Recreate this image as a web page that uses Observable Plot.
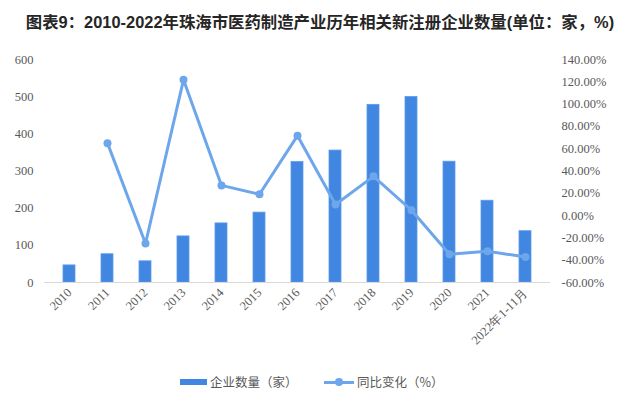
<!DOCTYPE html>
<html>
<head>
<meta charset="utf-8">
<script src="https://cdn.jsdelivr.net/npm/d3@7"></script>
<script src="https://cdn.jsdelivr.net/npm/@observablehq/plot@0.6"></script>
<style>
  html, body { margin: 0; padding: 0; background: #fff; }
  #wrap { position: relative; width: 640px; height: 406px; overflow: hidden; }
  #title { position: absolute; left: 0; top: 11px; width: 640px; text-align: center;
    font-family: "Liberation Sans", "Noto Sans CJK SC", sans-serif; font-weight: bold;
    font-size: 16.4px; color: #262626; line-height: 22px; white-space: nowrap; }
  #legend { position: absolute; left: 0; top: 372px; width: 640px; height: 20px;
    font-family: "Noto Sans CJK SC", sans-serif; font-size: 12.5px; color: #595959; }
  .item { position: absolute; top: 0; line-height: 20px; white-space: nowrap; }
  .swatch-bar { position: absolute; width: 27px; height: 6px; background: #4187E1; top: 7px; }
  .swatch-line { position: absolute; width: 30px; height: 3px; background: #6EA6EC; top: 8.5px; }
  .swatch-dot { position: absolute; width: 8px; height: 8px; border-radius: 50%; background: #6EA6EC; top: 6px; }
  #chart { position: absolute; left: 0; top: 0; }
  #chart svg text { font-family: "Liberation Serif", "DejaVu Serif", serif; }
</style>
</head>
<body>
<div id="wrap">
  <div id="chart"></div>
  <div id="title">图表9：2010-2022年珠海市医药制造产业历年相关新注册企业数量(单位：家，%)</div>
  <div id="legend">
    <div class="swatch-bar" style="left:180px"></div>
    <div class="item" style="left:210px">企业数量（家）</div>
    <div class="swatch-line" style="left:324px"></div>
    <div class="swatch-dot" style="left:335px"></div>
    <div class="item" style="left:357px">同比变化（%）</div>
  </div>
</div>
<script>
const years = ["2010","2011","2012","2013","2014","2015","2016","2017","2018","2019","2020","2021","2022年1-11月"];
const counts = [46, 76, 57, 124, 159, 188, 324, 355, 478, 499, 325, 220, 138];
const growth = [null, 65.0, -25.0, 121.8, 27.1, 19.1, 71.7, 9.9, 35.2, 4.8, -34.7, -32.0, -37.1];
const leftTicks = [0, 100, 200, 300, 400, 500, 600];
const rightTicks = [-60, -40, -20, 0, 20, 40, 60, 80, 100, 120, 140];

// map percent onto the count scale (-60% -> 0, 140% -> 600)
const pctToY = p => (p + 60) * 3;
const yToPct = y => y / 3 - 60;

const bars = years.map((y, i) => ({year: y, count: counts[i]}));
const line = years.map((y, i) => ({year: y, pct: growth[i]})).filter(d => d.pct !== null);

const tickFont = "Liberation Serif, DejaVu Serif, serif";

const chart = Plot.plot({
  width: 640,
  height: 406,
  marginLeft: 44,
  marginRight: 90,
  marginTop: 59,
  marginBottom: 124,
  style: {fontFamily: tickFont, fontSize: "12px", color: "#595959", background: "transparent"},
  x: {type: "band", domain: years, paddingInner: 0.69, paddingOuter: 0.345},
  y: {domain: [0, 600]},
  marks: [
    Plot.barY(bars, {x: "year", y: "count", fill: "#4187E1", stroke: "#5B9BEA", strokeWidth: 0.8}),
    Plot.ruleY([0], {stroke: "#d9d9d9", strokeWidth: 1}),
    Plot.line(line, {x: "year", y: d => pctToY(d.pct), stroke: "#6EA6EC", strokeWidth: 3, curve: "linear"}),
    Plot.dot(line, {x: "year", y: d => pctToY(d.pct), r: 4, fill: "#6EA6EC"}),
    Plot.axisY(leftTicks, {anchor: "left", tickSize: 0, tickPadding: 11, label: null, fontSize: 12.5, fontFamily: tickFont, fill: "#595959"}),
    Plot.axisY(rightTicks.map(pctToY), {anchor: "right", tickSize: 0, tickPadding: 11, label: null,
      tickFormat: d => yToPct(d).toFixed(2) + "%", fontSize: 12.5, fontFamily: tickFont, fill: "#595959"}),
    Plot.axisX({tickSize: 0, tickPadding: 8, tickRotate: -45, label: null, fontSize: 12.5, fontFamily: tickFont, fill: "#595959"})
  ]
});
document.getElementById("chart").appendChild(chart);
</script>
</body>
</html>
